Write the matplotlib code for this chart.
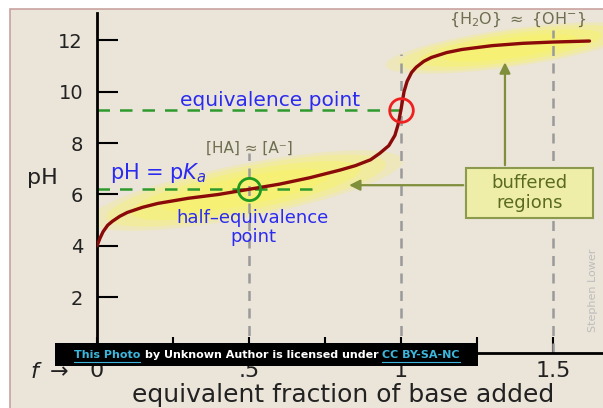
import matplotlib
matplotlib.use("Agg")
import matplotlib.pyplot as plt
from matplotlib.patches import Rectangle, Ellipse
from matplotlib.transforms import ScaledTranslation

# titration curve
f_vals = [0, 0.005, 0.01, 0.02, 0.035, 0.05, 0.075, 0.1, 0.15, 0.2, 0.3, 0.4, 0.5, 0.6, 0.7,
          0.8, 0.85, 0.9, 0.93, 0.96, 0.98, 0.99, 1.0, 1.01, 1.02, 1.035, 1.05, 1.075, 1.1,
          1.15, 1.2, 1.3, 1.4, 1.5, 1.62]
ph_vals = [4.0, 4.15, 4.3, 4.55, 4.8, 4.95, 5.15, 5.3, 5.5, 5.65, 5.85, 6.0, 6.2, 6.4, 6.65,
           6.95, 7.12, 7.35, 7.6, 7.9, 8.3, 8.7, 9.3, 10.0, 10.4, 10.75, 10.95, 11.18, 11.33,
           11.52, 11.64, 11.79, 11.88, 11.93, 11.97]

y_ticks = [2, 4, 6, 8, 10, 12]
x_major = [0, 0.5, 1, 1.5]
x_labels = ['0', '.5', '1', '1.5']
x_minor = [0.25, 0.75, 1.25]

half_eq = (0.5, 6.2)
equiv = (1.0, 9.3)

W, H = 603, 408
fig = plt.figure(figsize=(W / 100, H / 100), dpi=100)
fig.patch.set_facecolor('white')

def fx(x):
    return x / W

def fy(y):
    return 1 - y / H

beige = '#ebe4d8'
fig.patches.append(Rectangle((fx(10), -0.05), 1, fy(9) + 0.05, transform=fig.transFigure,
                             fc=beige, ec='#c9a3a0', lw=1.2, zorder=-5))

ax = fig.add_axes([fx(97), fy(353), 506 / W, 340 / H])
ax.set_facecolor('none')
ax.set_xlim(0, 506 / 304)
ax.set_ylim(-0.17, 13.06)

for s in ['top', 'right']:
    ax.spines[s].set_visible(False)
ax.spines['left'].set_linewidth(2)
ax.spines['bottom'].set_linewidth(2)

ax.set_yticks(y_ticks)
ax.tick_params(axis='y', direction='in', length=15, width=1.5, labelsize=14, pad=10,
               labelcolor='#222222')
ax.set_xticks(x_major)
ax.set_xticklabels(x_labels)
ax.set_xticks(x_minor, minor=True)
ax.tick_params(axis='x', which='both', direction='in', length=11.5, width=1.5)
ax.tick_params(axis='x', which='major', labelsize=16, pad=6, labelcolor='#222222')

# yellow highlights of the buffered regions
def glow(cx, cy, w, h, ang):
    tr = fig.dpi_scale_trans + ScaledTranslation(cx, cy, ax.transData)
    for k, a in [(1.12, 0.25), (1.0, 0.35), (0.82, 0.5), (0.6, 0.6)]:
        ax.add_patch(Ellipse((0, 0), w * k / 100, h * k / 100, angle=ang, transform=tr,
                             fc='#f8f36a', ec='none', alpha=a, zorder=1))

glow(0.49, 6.15, 285, 48, 11)
glow(1.36, 11.7, 225, 34, 8)

# guide lines
ax.vlines(0.5, -0.17, 7.6, color='#9a9a9a', lw=1.8, linestyles=(0, (4, 3)), zorder=2)
ax.vlines(1.0, -0.17, 11.45, color='#9a9a9a', lw=1.8, linestyles=(0, (4, 3)), zorder=2)
ax.vlines(1.5, -0.17, 12.4, color='#9a9a9a', lw=1.8, linestyles=(0, (4, 3)), zorder=2)
ax.hlines(equiv[1], 0, equiv[0], color='#2e9a2e', lw=1.8, linestyles=(0, (5, 4)), zorder=2)
ax.hlines(half_eq[1], 0, 0.72, color='#2e9a2e', lw=1.8, linestyles=(0, (5, 4)), zorder=2)

ax.plot(f_vals, ph_vals, color='#8a0a0a', lw=2.4, zorder=4, solid_capstyle='round',
        solid_joinstyle='round')

ax.plot(*half_eq, 'o', ms=16, mfc='none', mec='#1f9a1f', mew=2, zorder=5)
ax.plot(*equiv, 'o', ms=17, mfc='none', mec='#ee2020', mew=2, zorder=5)

# box + arrows
olive = '#7f8f3c'
ax.add_patch(Rectangle((1.214, 5.08), 0.418, 1.95, fc='#eeeea8', ec='#8c9a4e', lw=1.5, zorder=6))
ax.text(1.423, 6.05, 'buffered\nregions', ha='center', va='center', fontsize=13,
        color='#5a6a20', linespacing=1.15, zorder=7)
ax.annotate('', xy=(1.342, 11.25), xytext=(1.342, 7.03),
            arrowprops=dict(arrowstyle='-|>', color=olive, lw=1.6, mutation_scale=16), zorder=6)
ax.annotate('', xy=(0.82, 6.36), xytext=(1.214, 6.36),
            arrowprops=dict(arrowstyle='-|>', color=olive, lw=1.6, mutation_scale=16), zorder=6)

# labels
blue = '#2b2bef'
ax.text(0.569, 9.67, 'equivalence point', ha='center', va='center', fontsize=14.5, color=blue)
ax.text(0.043, 6.85, r'pH = p$K_a$', ha='left', va='center', fontsize=15, color=blue)
ax.text(0.513, 4.7, 'half\u2013equivalence\npoint', ha='center', va='center', fontsize=13,
        color=blue, linespacing=1.05)
ax.text(0.5, 7.8, '[HA] \u2248 [A\u207b]', ha='center', va='center', fontsize=11, color='#6e6e50')
ax.text(1.385, 12.8, r'{H$_2$O} $\approx$ {OH$^{-}$}', ha='center', va='center', fontsize=11.5,
        color='#6e6e50')

fig.text(fx(42), fy(178), 'pH', ha='center', va='center', fontsize=16, color='#222222')
fig.text(fx(30), fy(372), r'$f$ $\rightarrow$', ha='left', va='center', fontsize=16, color='#222222')
fig.text(fx(343), fy(395), 'equivalent fraction of base added', ha='center', va='center',
         fontsize=18, color='#222222')
fig.text(fx(593), fy(290), 'Stephen Lower', rotation=90, ha='center', va='center',
         fontsize=8, color='#bdbdbd')

# attribution banner on an overlay axes
ov = fig.add_axes([0, 0, 1, 1], zorder=10)
ov.set_xlim(0, W)
ov.set_ylim(H, 0)
ov.axis('off')
ov.add_patch(Rectangle((55, 343), 423, 23, fc='black', ec='none'))
cyan = '#3cb6dc'
kw = dict(fontsize=8, fontweight='bold', va='center')
t1 = ov.text(74, 354.5, 'This Photo', color=cyan, **kw)
t2 = ov.annotate('by Unknown Author is licensed under', xy=(1, 0.5), xycoords=t1,
                 xytext=(3, 0), textcoords='offset points', color='white', **kw)
t3 = ov.annotate('CC BY-SA-NC', xy=(1, 0.5), xycoords=t2,
                 xytext=(3, 0), textcoords='offset points', color=cyan, **kw)
fig.canvas.draw()
inv = ov.transData.inverted()
for t in [t1, t3]:
    bb = t.get_window_extent()
    (x0, _), (x1, _) = inv.transform([(bb.x0, bb.y0), (bb.x1, bb.y0)])
    ov.plot([x0, x1], [361.5, 361.5], color=cyan, lw=0.8)

fig.savefig('out.png', dpi=100)
